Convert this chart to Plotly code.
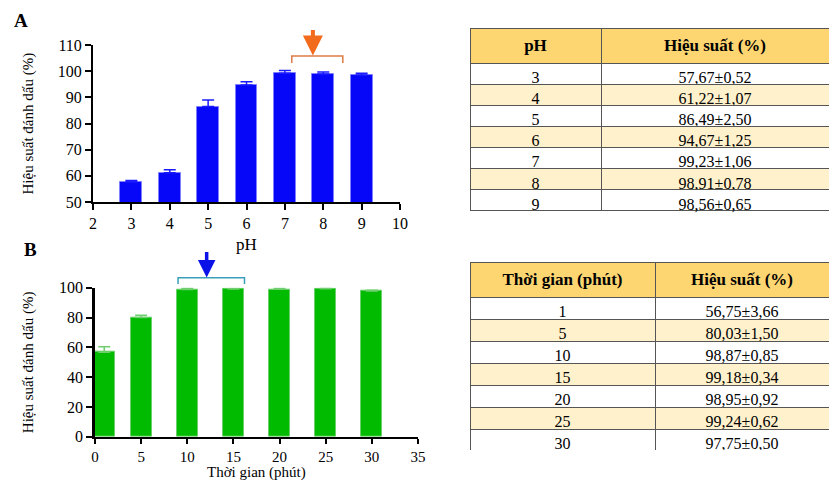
import plotly.graph_objects as go

# ---------------- data ----------------
ph = [3, 4, 5, 6, 7, 8, 9]
ph_yield = [57.67, 61.22, 86.49, 94.67, 99.23, 98.91, 98.56]
ph_err = [0.52, 1.07, 2.50, 1.25, 1.06, 0.78, 0.65]
ph_labels = ["3", "4", "5", "6", "7", "8", "9"]
ph_text = ["57,67±0,52", "61,22±1,07", "86,49±2,50", "94,67±1,25",
           "99,23±1,06", "98,91±0,78", "98,56±0,65"]

t_min = [1, 5, 10, 15, 20, 25, 30]
t_yield = [56.75, 80.03, 98.87, 99.18, 98.95, 99.24, 97.75]
t_err = [3.66, 1.50, 0.85, 0.34, 0.92, 0.62, 0.50]
t_labels = ["1", "5", "10", "15", "20", "25", "30"]
t_text = ["56,75±3,66", "80,03±1,50", "98,87±0,85", "99,18±0,34",
          "98,95±0,92", "99,24±0,62", "97,75±0,50"]

W, H = 829, 482
SERIF = "Liberation Serif"

# axis domains (paper)
A_X = [93 / W, 400 / W]
A_Y = [1 - 202 / H, 1 - 45 / H]
B_X = [95 / W, 418 / W]
B_Y = [1 - 436.7 / H, 1 - 287.7 / H]
A_XR, A_YR = [2, 10], [50, 110]
B_XR, B_YR = [0, 35], [0, 100]


def to_paper(v, rng, dom):
    return dom[0] + (v - rng[0]) / (rng[1] - rng[0]) * (dom[1] - dom[0])


fig = go.Figure()

fig.add_trace(go.Bar(
    x=ph, y=ph_yield, width=0.57, xaxis="x", yaxis="y",
    marker=dict(color="#0606f8", line=dict(color="#8080ff", width=1)),
    error_y=dict(type="data", symmetric=False, array=ph_err,
                 arrayminus=[0] * len(ph_err), color="#1a1aff",
                 thickness=1.5, width=6),
    showlegend=False))

fig.add_trace(go.Bar(
    x=t_min, y=t_yield, width=2.3, xaxis="x2", yaxis="y2",
    marker=dict(color="#00bb00", line=dict(color="#6ccf6c", width=1)),
    error_y=dict(type="data", symmetric=False, array=t_err,
                 arrayminus=[0] * len(t_err), color="#6fcf6f",
                 thickness=1.5, width=6),
    showlegend=False))

row_fill = (["#ffffff", "#fff1cc"] * 4)[:7]
TFONT = dict(family=SERIF, size=16, color="black")

fig.add_trace(go.Table(
    domain=dict(x=[470 / W, 1.0], y=[1 - 215 / H, 1 - 28 / H]),
    columnwidth=[131, 228],
    header=dict(values=["<b>pH</b>", "<b>Hiệu suất (%)</b>"],
                fill_color="#fdd672", line=dict(color="#555555", width=1),
                font=dict(family=SERIF, size=17, color="black"),
                align="center", height=30),
    cells=dict(values=[ph_labels, ph_text],
               fill_color=[row_fill, row_fill],
               line=dict(color="#555555", width=1),
               font=TFONT, align="center", height=21.1)))

fig.add_trace(go.Table(
    domain=dict(x=[470 / W, 1.0], y=[1 - 450 / H, 1 - 262 / H]),
    columnwidth=[185, 174],
    header=dict(values=["<b>Thời gian (phút)</b>", "<b>Hiệu suất (%)</b>"],
                fill_color="#fdd672", line=dict(color="#555555", width=1),
                font=dict(family=SERIF, size=17, color="black"),
                align="center", height=25),
    cells=dict(values=[t_labels, t_text],
               fill_color=[row_fill, row_fill],
               line=dict(color="#555555", width=1),
               font=TFONT, align="center", height=22)))

axis_common = dict(showgrid=False, zeroline=False, showline=True,
                   linecolor="black", ticks="outside",
                   tickwidth=2, tickcolor="black", automargin=False)
f16 = dict(family=SERIF, size=16, color="black")
f15 = dict(family=SERIF, size=15, color="black")

fig.update_layout(
    width=W, height=H,
    margin=dict(l=0, r=0, t=0, b=0, pad=0, autoexpand=False),
    paper_bgcolor="white", plot_bgcolor="white", bargap=0,
    xaxis=dict(domain=A_X, range=A_XR, anchor="y", dtick=1, tick0=2,
               linewidth=2, ticklen=6, tickfont=f16, **axis_common),
    yaxis=dict(domain=A_Y, range=A_YR, anchor="x", dtick=10,
               linewidth=2, ticklen=6, tickfont=f16, **axis_common),
    xaxis2=dict(domain=B_X, range=B_XR, anchor="y2", dtick=5, tick0=0,
                linewidth=2, ticklen=5, tickfont=f15, **axis_common),
    yaxis2=dict(domain=B_Y, range=B_YR, anchor="x2", dtick=20,
                linewidth=2.5, ticklen=6, tickfont=f16, **axis_common),
)

ann = []
# panel letters
ann.append(dict(text="<b>A</b>", x=12 / W, y=1 - 21 / H, xref="paper", yref="paper",
                xanchor="left", yanchor="middle", showarrow=False,
                font=dict(family=SERIF, size=19, color="black")))
ann.append(dict(text="<b>B</b>", x=22 / W, y=1 - 249 / H, xref="paper", yref="paper",
                xanchor="left", yanchor="middle", showarrow=False,
                font=dict(family=SERIF, size=19, color="black")))
# axis titles
ann.append(dict(text="Hiệu suất đánh dấu (%)", x=28 / W, y=sum(A_Y) / 2,
                xref="paper", yref="paper", textangle=-90, showarrow=False,
                xanchor="center", yanchor="middle",
                font=dict(family=SERIF, size=15, color="black")))
ann.append(dict(text="Hiệu suất đánh dấu (%)", x=28 / W, y=sum(B_Y) / 2,
                xref="paper", yref="paper", textangle=-90, showarrow=False,
                xanchor="center", yanchor="middle",
                font=dict(family=SERIF, size=15, color="black")))
ann.append(dict(text="pH", x=sum(A_X) / 2, y=1 - 244 / H, xref="paper", yref="paper",
                showarrow=False, xanchor="center", yanchor="middle",
                font=dict(family=SERIF, size=17, color="black")))
ann.append(dict(text="Thời gian (phút)", x=sum(B_X) / 2, y=0,
                xref="paper", yref="paper", showarrow=False,
                xanchor="center", yanchor="bottom", borderpad=0,
                font=dict(family=SERIF, size=15, color="black")))

# arrows
ann.append(dict(text="", x=to_paper(7.73, A_XR, A_X), y=to_paper(106.0, A_YR, A_Y),
                xref="paper", yref="paper", showarrow=True, ax=0, ay=-27,
                arrowhead=2, arrowsize=1.0, arrowwidth=4, arrowcolor="#f26a1b"))
ann.append(dict(text="", x=to_paper(12.1, B_XR, B_X), y=to_paper(106.9, B_YR, B_Y),
                xref="paper", yref="paper", showarrow=True, ax=0, ay=-27,
                arrowhead=2, arrowsize=1.0, arrowwidth=3.5, arrowcolor="#0a12e8"))
fig.update_layout(annotations=ann)


def bracket(x0, x1, ytop, ybot, xr, xd, yr, yd, color):
    px0, px1 = to_paper(x0, xr, xd), to_paper(x1, xr, xd)
    pyt, pyb = to_paper(ytop, yr, yd), to_paper(ybot, yr, yd)
    return dict(type="path", xref="paper", yref="paper",
                path=f"M{px0},{pyb} L{px0},{pyt} L{px1},{pyt} L{px1},{pyb}",
                line=dict(color=color, width=1.5))


fig.update_layout(shapes=[
    bracket(7.18, 8.51, 105.8, 103.1, A_XR, A_X, A_YR, A_Y, "#de7b45"),
    bracket(9.0, 16.2, 106.7, 102.5, B_XR, B_X, B_YR, B_Y, "#3a9fb8"),
])

fig.write_html("out.html", config={"displayModeBar": False},
               post_script="document.body.style.margin='0px';"
                           "document.body.style.overflow='hidden';")
